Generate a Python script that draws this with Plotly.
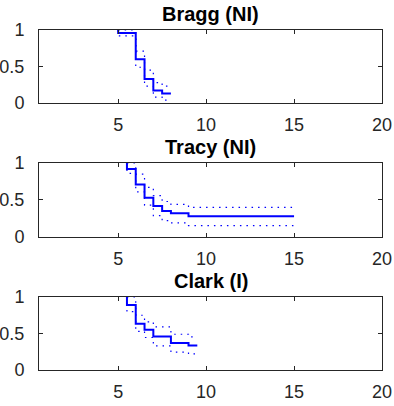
import plotly.graph_objects as go
from plotly.subplots import make_subplots

titles = ["Bragg (NI)", "Tracy (NI)", "Clark (I)"]

# Step times (last value = end of the curve)
bragg_t = [5, 5, 6, 6.5, 7, 7.5, 8]
bragg_s = [1, 0.96, 0.60, 0.33, 0.17, 0.13, 0.13]
bragg_hi = [1, 1, 0.71, 0.45, 0.28, 0.23, 0.23]
bragg_lo = [1, 0.92, 0.49, 0.23, 0.08, 0.04, 0.04]

tracy_t = [5.5, 5.5, 6, 6.5, 7, 7.5, 8, 9, 15]
tracy_s = [1, 0.92, 0.71, 0.53, 0.42, 0.35, 0.32, 0.28, 0.28]
tracy_hi = [1, 1, 0.85, 0.67, 0.56, 0.48, 0.44, 0.40, 0.40]
tracy_lo = [1, 0.86, 0.61, 0.43, 0.29, 0.22, 0.19, 0.155, 0.155]

clark_t = [5.5, 5.5, 6, 6.5, 7, 8, 9, 9.5]
clark_s = [1, 0.89, 0.635, 0.55, 0.46, 0.37, 0.335, 0.335]
clark_hi = [1, 1, 0.75, 0.66, 0.59, 0.49, 0.455, 0.455]
clark_lo = [1, 0.80, 0.53, 0.445, 0.33, 0.245, 0.22, 0.22]

panels = [
    (bragg_t, bragg_s, bragg_hi, bragg_lo),
    (tracy_t, tracy_s, tracy_hi, tracy_lo),
    (clark_t, clark_s, clark_hi, clark_lo),
]

x_ticks = [5, 10, 15, 20]
y_ticks = [0, 0.5, 1]
y_ticklabels = ["0", "0.5", "1"]

fig = make_subplots(rows=3, cols=1, vertical_spacing=0.0)

domains = [[0.7853, 1.0], [0.3912, 0.6088], [0.0, 0.2147]]
blue = "#0000FF"
font_family = "Liberation Sans, Arial, sans-serif"

for i, (t, s, hi, lo) in enumerate(panels):
    r = i + 1
    dot = dict(color=blue, width=1.2, dash="1.5px,5px", shape="hv")
    fig.add_trace(go.Scatter(x=t, y=hi, mode="lines", line=dot, showlegend=False), row=r, col=1)
    fig.add_trace(go.Scatter(x=t, y=lo, mode="lines", line=dot, showlegend=False), row=r, col=1)
    fig.add_trace(go.Scatter(x=t, y=s, mode="lines", line=dict(color=blue, width=2, shape="hv"), showlegend=False), row=r, col=1)
    axis_common = dict(showline=True, linecolor="#262626", linewidth=1, mirror="ticks",
                       ticks="inside", ticklen=4, tickcolor="#262626", showgrid=False, zeroline=False,
                       automargin=False,
                       tickfont=dict(family=font_family, size=18, color="#262626"))
    fig.update_xaxes(range=[0.5, 20], tickvals=x_ticks, domain=[0, 1], ticklabelstandoff=5,
                     row=r, col=1, **axis_common)
    fig.update_yaxes(range=[0, 1], tickvals=y_ticks, ticktext=y_ticklabels, domain=domains[i],
                     ticklabelstandoff=10, row=r, col=1, **axis_common)
    xref = "x domain" if r == 1 else f"x{r} domain"
    yref = "y domain" if r == 1 else f"y{r} domain"
    fig.add_annotation(text=f"<b>{titles[i]}</b>", xref=xref, yref=yref, x=0.5, y=1,
                       xanchor="center", yanchor="bottom", yshift=3, showarrow=False,
                       font=dict(family=font_family, size=20, color="#000000"))

fig.update_layout(width=394, height=406, margin=dict(l=39, r=12, t=30, b=36),
                  plot_bgcolor="white", paper_bgcolor="white",
                  font=dict(family=font_family))

fig.write_html("out.html", config={"displayModeBar": False},
               post_script="document.body.style.margin='0';document.body.style.overflow='hidden';")
